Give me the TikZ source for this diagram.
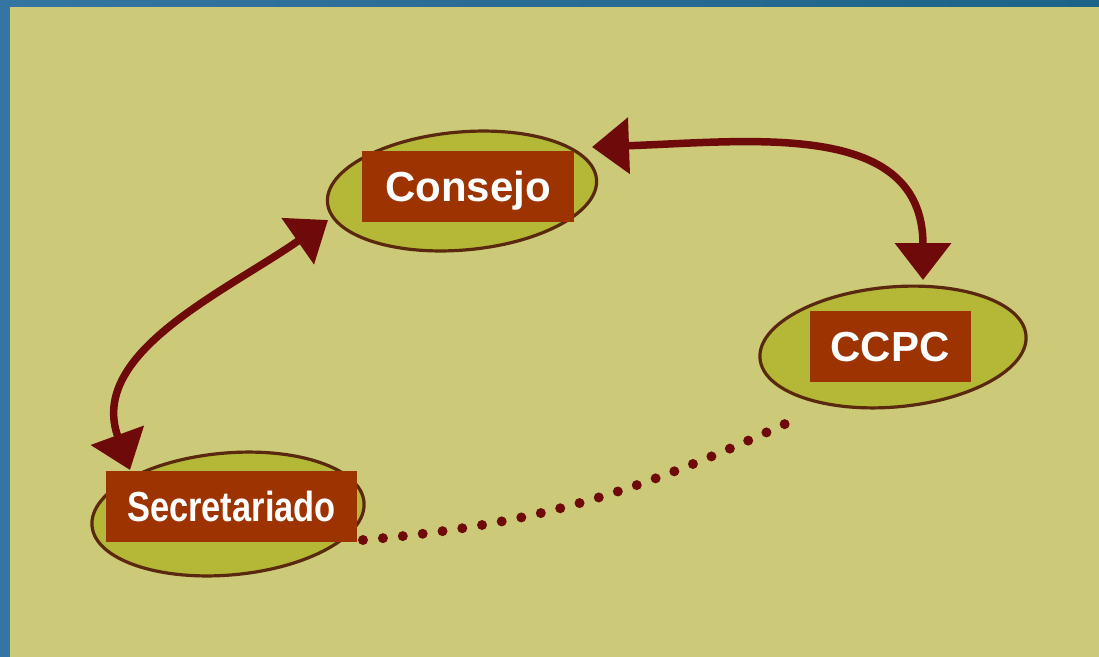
\documentclass[tikz,border=0pt]{standalone}
\usepackage{fontspec}
\setmainfont{Liberation Sans}
\usetikzlibrary{shapes.geometric,arrows.meta}

\definecolor{bgkhaki}{HTML}{CCCA78}
\definecolor{bluelight}{HTML}{3475A2}
\definecolor{bluedark}{HTML}{1B6388}
\definecolor{blobfill}{HTML}{B5B737}
\definecolor{blobline}{HTML}{5A280E}
\definecolor{tagred}{HTML}{9C3300}
\definecolor{arrowred}{HTML}{6E0A0A}

\tikzset{
    blob/.style = {ellipse, draw = blobline, line width = 3.2pt, fill = blobfill,
                   rotate = 5, minimum width = 270pt, minimum height = 118pt},
    tag/.style = {fill = tagred, text = white, inner xsep = 21pt, minimum height = 71pt,
                  text height = 30pt, text depth = 0pt,
                  font = \fontsize{42}{42}\selectfont\bfseries},
    link/.style = {draw = arrowred, line width = 7.5pt,
                   {Triangle[length = 37pt, width = 55pt]}-{Triangle[length = 37pt, width = 55pt]}},
    dots/.style = {draw = arrowred, line width = 10pt, line cap = round,
                   dash pattern = on 0pt off 20pt}
}

\begin{document}
\begin{tikzpicture}[x = 1pt, y = 1pt]
    \useasboundingbox (0, 0) rectangle (1099, -656);
    \shade[left color = bluelight, right color = bluedark] (0, 0) rectangle (1099, -656);
    \fill[bgkhaki] (10, -7) rectangle (1102, -660);

    % the three bodies
    \node (consejo) [blob] at (462, -191) {};
    \node (ccpc) [blob, minimum width = 267pt, minimum height = 120pt] at (893, -347) {};
    \node (secretariado) [blob, minimum width = 273pt, minimum height = 122pt] at (228, -514) {};

    % relations
    \draw[link]
        ([shift = {(130, 44)}]consejo.center) to [out = 2, in = 90, looseness = 1.15] ([shift = {(30, 67)}]ccpc.center);
    \draw[link]
        ([shift = {(-98, 44)}]secretariado.center) to [out = 110, in = 215] ([shift = {(-134, -29)}]consejo.center);
    \draw[dots]
        ([shift = {(135, -26)}]secretariado.center) to [out = 5, in = 205] ([shift = {(-93, -70)}]ccpc.center);

    % labels
    \node (consejo-tag) [tag, minimum width = 212pt] at (468, -186) {Consejo};
    \node (ccpc-tag) [tag] at (890, -346.5) {CCPC};
    \node (secretariado-tag) [tag] at (231.5, -506.5) {\scalebox{0.82}[1]{Secretariado}};
\end{tikzpicture}
\end{document}
